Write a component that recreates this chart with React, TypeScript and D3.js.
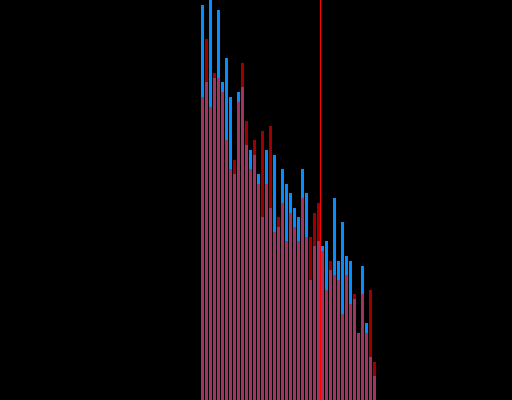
import React from "react";
import * as d3 from "d3";

// Histogram bin indices (44 bins)
const bins: number[] = d3.range(44);

// Blue series counts per bin
const blueValues: number[] = [
  395, 318, 405, 322, 390, 318, 342, 303, 226, 308, 313, 255, 250, 245, 226,
  183, 250, 192, 245, 173, 231, 216, 207, 192, 183, 231, 207, 120, 154, 159,
  154, 159, 130, 202, 139, 178, 144, 139, 101, 67, 134, 77, 43, 24,
];

// Red series counts per bin
const redValues: number[] = [
  303, 361, 293, 327, 322, 308, 260, 231, 240, 298, 337, 279, 231, 260, 216,
  269, 216, 274, 168, 183, 197, 159, 187, 173, 159, 202, 163, 163, 187, 197,
  149, 110, 139, 125, 120, 86, 125, 96, 106, 67, 106, 67, 110, 38,
];

// Vertical marker position (in bin units)
const markerValue = 29.75;

const W = 512;
const H = 400;

export default function App() {
  const x = d3.scaleLinear().domain([0, 44]).range([201, 377]);
  const y = d3.scaleLinear().domain([0, 400]).range([400, 0]);

  const barW = (i: number) => x(i + 1) - x(i) - 1;

  return (
    <div style={{ position: "fixed", left: 0, top: 0, width: W, height: H, background: "#000" }}>
      <svg width={W} height={H} style={{ display: "block" }}>
        <rect x={0} y={0} width={W} height={H} fill="#000" />
        <g shapeRendering="crispEdges">
          {bins.map((b) => (
            <rect
              key={"b" + b}
              x={x(b)}
              y={Math.max(0, y(blueValues[b]))}
              width={barW(b)}
              height={y(0) - Math.max(0, y(blueValues[b]))}
              fill="#0a8cff"
            />
          ))}
          {bins.map((b) => (
            <rect
              key={"r" + b}
              x={x(b)}
              y={Math.max(0, y(redValues[b]))}
              width={barW(b)}
              height={y(0) - Math.max(0, y(redValues[b]))}
              fill="#ff0000"
              fillOpacity={0.62}
            />
          ))}
          <rect x={x(markerValue)} y={0} width={1} height={H} fill="#ff0000" />
        </g>
      </svg>
    </div>
  );
}
